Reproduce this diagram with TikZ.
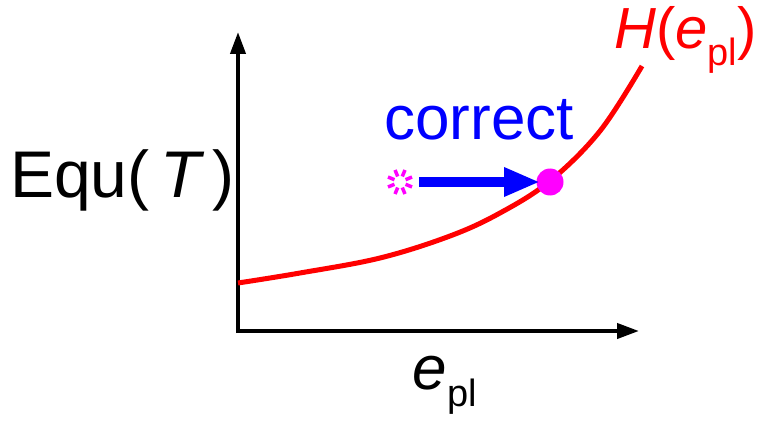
\documentclass[tikz,border=0pt]{standalone}
\usepackage{fontspec}
\setmainfont{Liberation Sans}
\usetikzlibrary{arrows.meta,calc}
\definecolor{myred}{RGB}{255,0,0}
\definecolor{myblue}{RGB}{0,0,255}
\definecolor{mymag}{RGB}{255,0,255}
\tikzset{
  axis/.style={line width=4pt,-{Triangle[length=22pt,width=15pt]}},
  curve/.style={myred,line width=5pt},
  corr/.style={myblue,line width=10pt,-{Triangle[length=36pt,width=27pt]}, shorten >=10pt},
  lbl/.style={inner sep=0pt,anchor=center}
}
\newcommand{\sz}[1]{\fontsize{#1}{#1}\selectfont}
\begin{document}
\begin{tikzpicture}[x=1pt,y=-1pt]
\useasboundingbox (0,0) rectangle (762,422);
\coordinate (o) at (238,331);
\coordinate (ytop) at (238,32);
\coordinate (xend) at (639,331);
\draw[axis] (238,333) -- (ytop);
\draw[axis] (236,331) -- (xend);
\draw[curve] plot[smooth,tension=0.6] coordinates {(238,283) (300,273) (380,258) (450,236) (500,213) (550,181) (600,131) (642,66)};
% star marker
\coordinate (star) at (400,182);
\foreach \a in {22.5,67.5,...,337.5}
  \draw[mymag,line width=3.5pt] ($(star)+(\a:6)$) -- ($(star)+(\a:13)$);
\node[circle,fill=mymag,minimum size=27pt,inner sep=0pt] (dot) at (550,182) {};
\coordinate (astart) at (419,182);
\draw[corr] (astart) -- (dot.center);
\node[lbl,myblue] (correct) at (479,120) {\sz{62}correct};
\node[lbl,anchor=west] (ylab) at (10,180) {\sz{66}Equ(\kern0.17em\textit{T}\kern0.12em)};
\node[lbl,myred,anchor=west] (hlab) at (614,40) {\sz{58}\textit{H}(\textit{e}\raisebox{-0.28em}{\sz{38}pl})};
\node[lbl] (xlab) at (445,385) {\sz{62}\textit{e}\raisebox{-0.28em}{\sz{38}pl}};
\end{tikzpicture}
\end{document}
